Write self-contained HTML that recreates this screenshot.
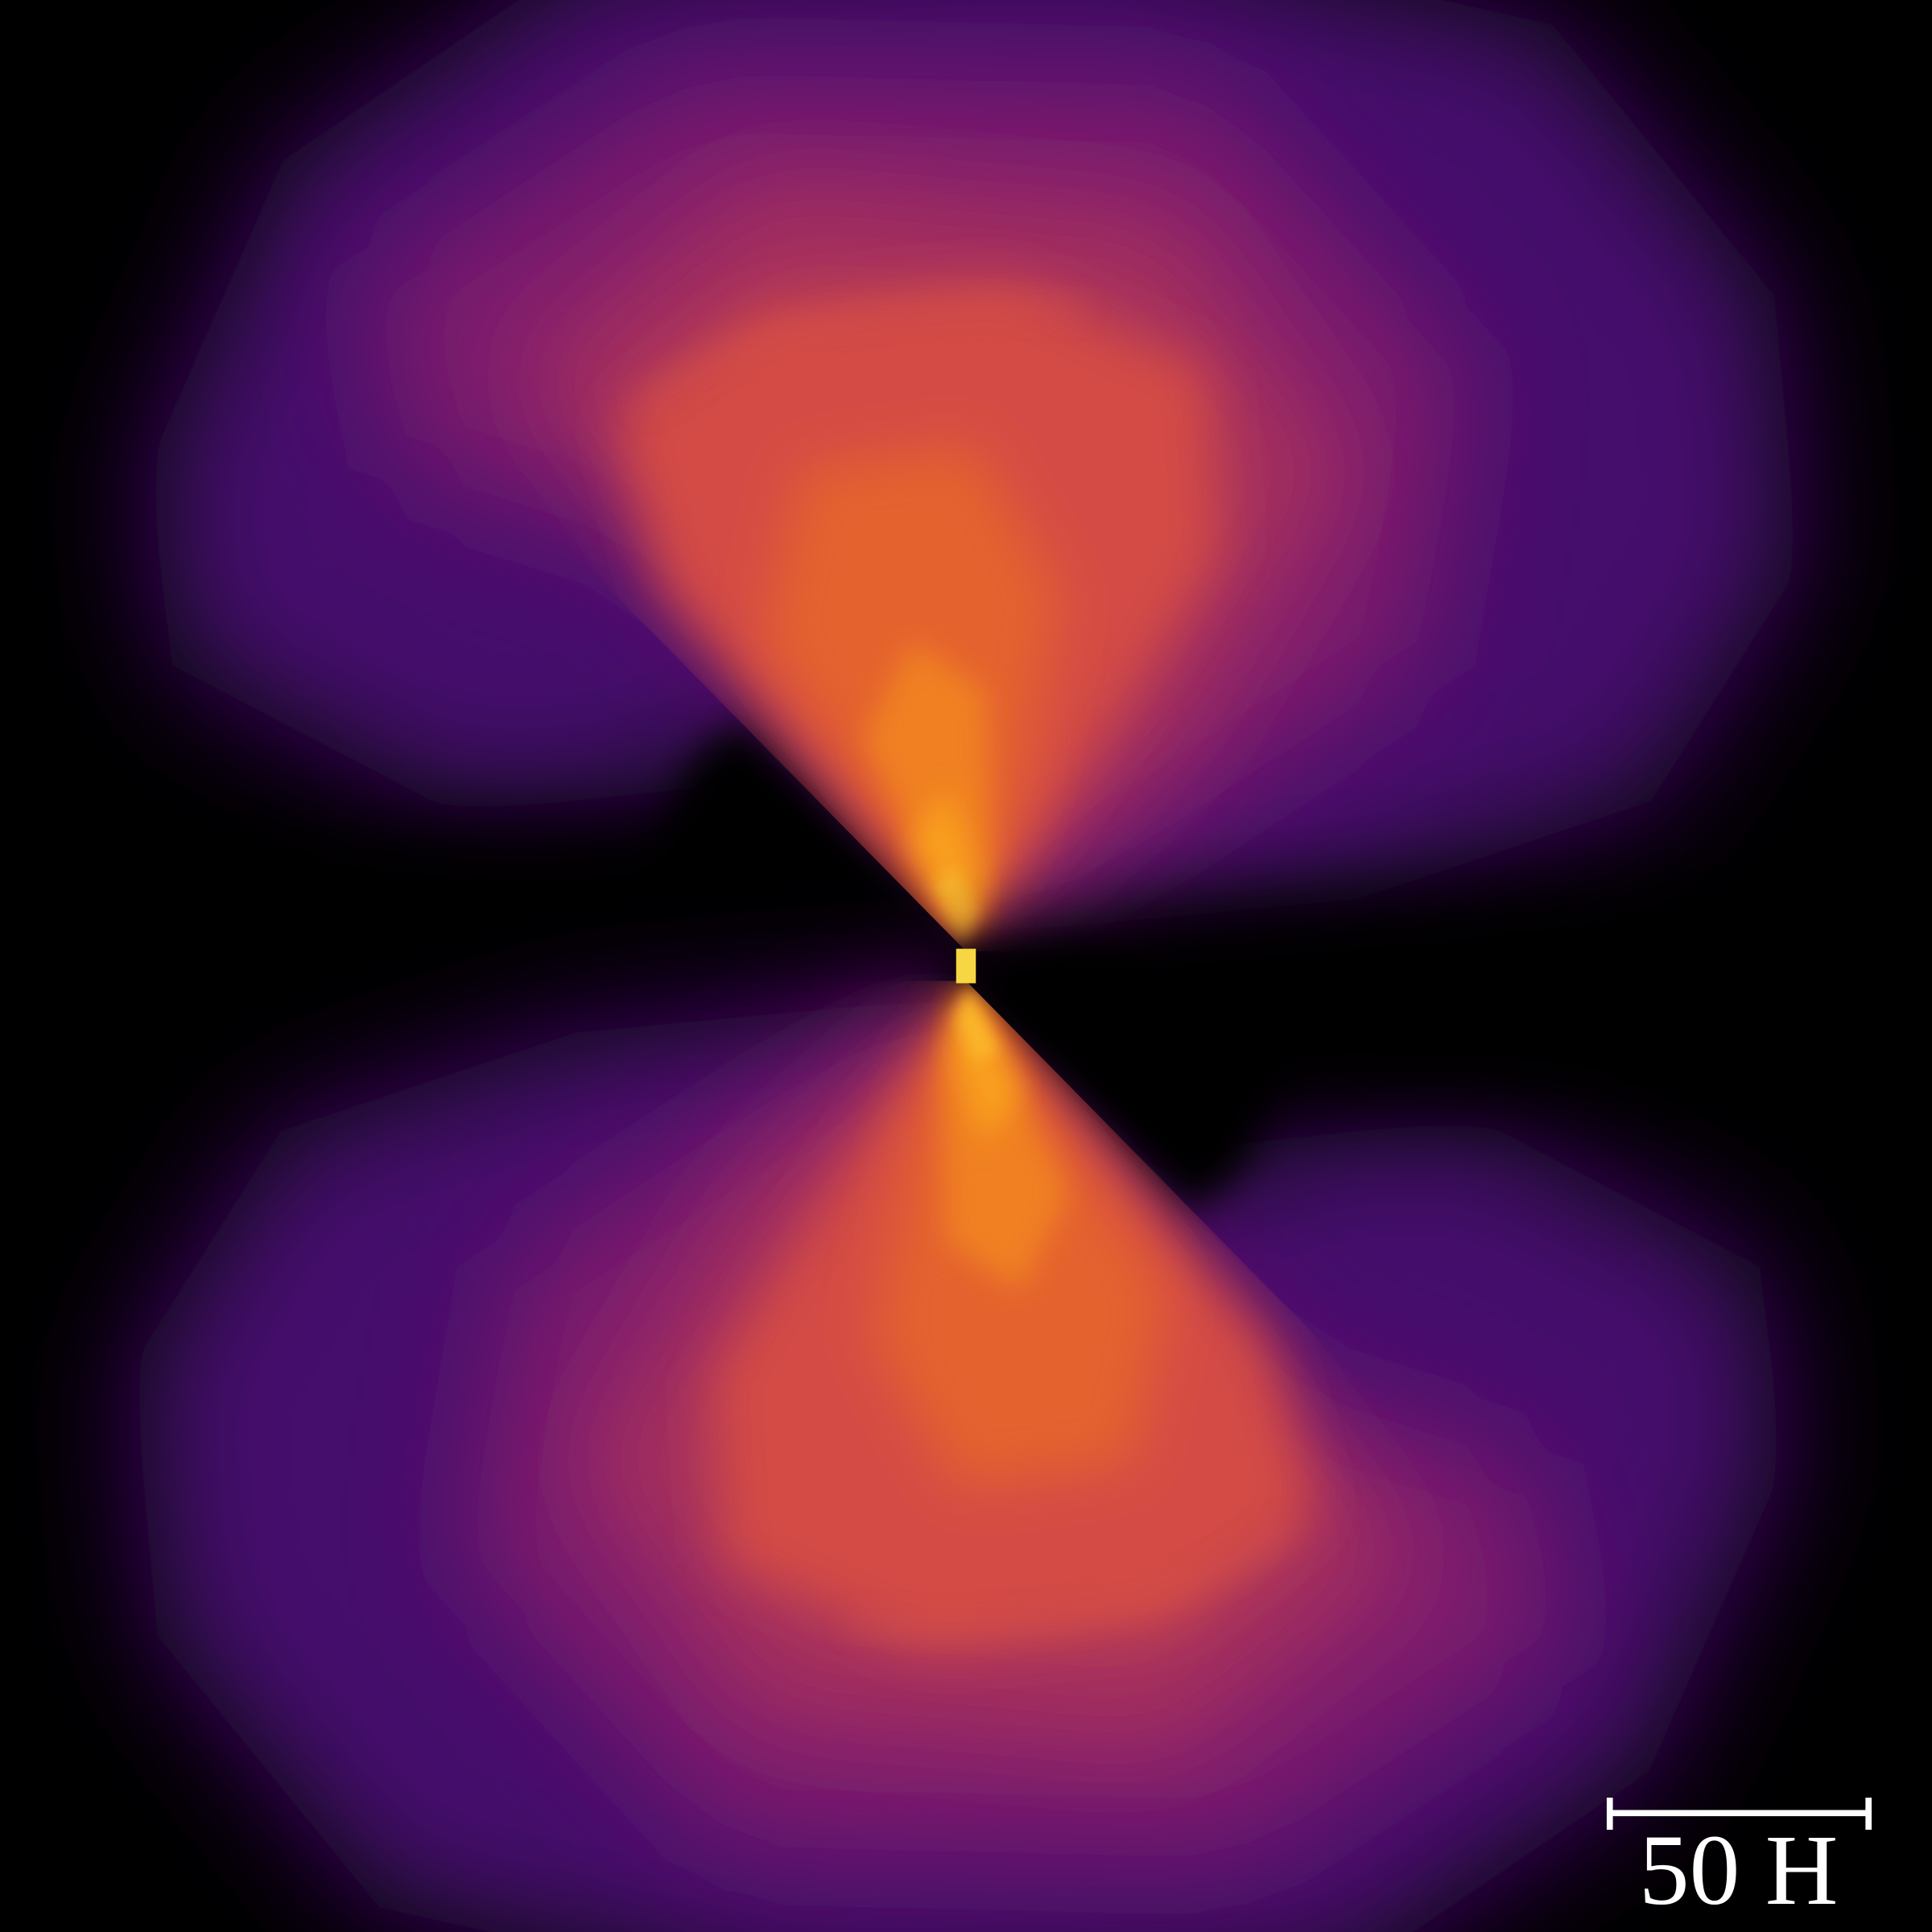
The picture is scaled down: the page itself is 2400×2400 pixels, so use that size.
<!DOCTYPE html>
<html><head><meta charset="utf-8">
<style>html,body{margin:0;padding:0;background:#000;}svg{display:block;}</style>
</head><body>
<svg width="2400" height="2400" viewBox="0 0 1568 1568" xmlns="http://www.w3.org/2000/svg">
<defs>
<filter id="b60" x="-30%" y="-30%" width="160%" height="160%"><feGaussianBlur stdDeviation="50"/></filter>
<filter id="b35" x="-30%" y="-30%" width="160%" height="160%"><feGaussianBlur stdDeviation="40"/></filter>
<filter id="b20" x="-30%" y="-30%" width="160%" height="160%"><feGaussianBlur stdDeviation="22"/></filter>
<filter id="b15" x="-50%" y="-50%" width="200%" height="200%"><feGaussianBlur stdDeviation="15"/></filter>
<filter id="b12" x="-30%" y="-30%" width="160%" height="160%"><feGaussianBlur stdDeviation="12"/></filter>
<filter id="b6" x="-50%" y="-50%" width="200%" height="200%"><feGaussianBlur stdDeviation="6"/></filter>
<filter id="b30" x="-50%" y="-50%" width="200%" height="200%"><feGaussianBlur stdDeviation="30"/></filter>
<clipPath id="coneClip"><polygon points="784,772 600,585 250,230 250,-100 1600,-100 1600,772"/></clipPath>
</defs>
<rect width="1568" height="1568" fill="#000"/>
<g id="lobe">
<polygon filter="url(#b60)" fill="#440d6c" points="120,380 230,130 480,-40 900,-60 1260,20 1440,240 1460,460 1340,650 1100,730 830,755 780,760 680,660 610,580 560,640 370,660 140,540"/>
<polygon filter="url(#b60)" fill="#801f6d" points="300,230 560,60 980,70 1190,300 1150,540 920,690 790,755 640,560 520,440 330,380"/>
<ellipse filter="url(#b30)" fill="#000" cx="400" cy="760" rx="400" ry="80"/>
<polygon filter="url(#b15)" fill="#000" points="800,792 784,772 600,585 560,620 520,720 700,800"/>
<g clip-path="url(#coneClip)">
<polygon filter="url(#b35)" fill="#a8305c" points="430,300 620,150 950,180 1090,380 960,600 800,740 600,520"/>
<polygon filter="url(#b20)" fill="#d44c45" points="782,765 540,480 500,340 620,250 820,230 980,300 990,450 870,640"/>
<polygon filter="url(#b20)" fill="#e4622f" points="782,765 620,520 650,380 790,360 860,480 830,650"/>
<polygon filter="url(#b12)" fill="#f08024" points="782,765 700,600 740,520 800,560 805,700"/>
<polygon filter="url(#b12)" fill="#f9a11a" points="782,768 740,680 770,640 795,720"/>
<polygon filter="url(#b6)" fill="#fbb52c" points="782,768 758,715 776,705 792,740"/>
<path filter="url(#b12)" fill="none" stroke="#e0604a" stroke-width="8" opacity="0.5" d="M520,330 Q640,230 880,250"/>
</g>
</g>
<use href="#lobe" transform="rotate(180 784 784)"/>
<rect x="776" y="770" width="16" height="28" fill="#f6d743"/>
<g fill="#fff">
<rect x="1307" y="1469" width="210" height="5"/>
<rect x="1304" y="1459" width="5" height="26"/>
<rect x="1514" y="1459" width="5" height="26"/>
<text x="1411" y="1545" text-anchor="middle" font-family="Liberation Serif, serif" font-size="82" fill="#fff">50 H</text>
</g>
</svg>
</body></html>
